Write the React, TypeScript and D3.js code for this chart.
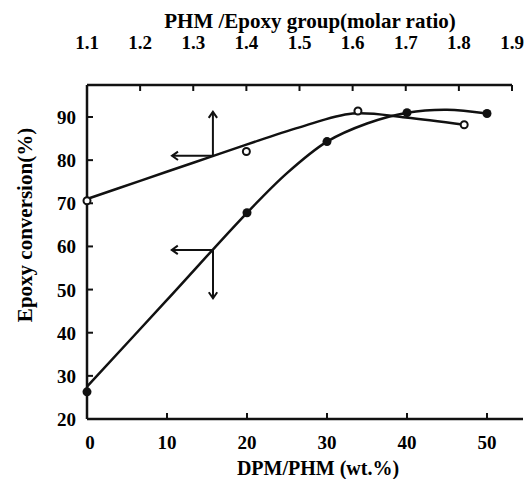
import React from 'react';
import * as d3 from 'd3';

// ---- data ----
const wtTicks = [0, 10, 20, 30, 40, 50];
const molarTicks = [1.1, 1.2, 1.3, 1.4, 1.5, 1.6, 1.7, 1.8, 1.9];
const yTicks = [20, 30, 40, 50, 60, 70, 80, 90];

// open circles: conversion vs PHM/Epoxy molar ratio (top axis)
const molarPoints = [1.1, 1.4, 1.61, 1.81];
const molarConv = [70.6, 82, 91.4, 88.2];
// smooth fitted curve through molar data
const molarCurveX = [1.1, 1.2, 1.3, 1.4, 1.5, 1.6, 1.7, 1.81];
const molarCurveY = [71, 75.2, 79.4, 83.6, 87.6, 90.8, 89.9, 88.2];

// filled circles: conversion vs DPM/PHM wt% (bottom axis)
const wtPoints = [0, 20, 30, 40, 50];
const wtConv = [26.3, 67.8, 84.3, 91, 90.8];
const wtCurveX = [0, 10, 20, 25, 30, 35, 40, 45, 50];
const wtCurveY = [27.5, 47.6, 67.8, 77, 84.3, 88.5, 91, 91.7, 90.8];

// axis-indicator arrows (junction, horizontal tip, vertical tip) in data units
const arrowMolar = { x: 1.337, y: 81, xTip: 1.26, yTip: 91.2 };
const arrowWt = { x: 15.75, y: 59.2, xTip: 10.6, yTip: 48 };

const FONT = "'Liberation Serif', 'Times New Roman', serif";

export default function App() {
  const xWt = d3.scaleLinear().domain([0, 50]).range([87, 487]);
  const xMol = d3.scaleLinear().domain([1.1, 1.9]).range([87, 512]);
  const y = d3.scaleLinear().domain([20, 90]).range([419, 117]);

  const top = 85;
  const bottom = y(20);
  const left = xWt(0);

  const lineGen = d3.line<[number, number]>().curve(d3.curveCatmullRom.alpha(0.5));
  const curveA = lineGen(molarCurveX.map((m, i) => [xMol(m), y(molarCurveY[i])]))!;
  const curveB = lineGen(wtCurveX.map((w, i) => [xWt(w), y(wtCurveY[i])]))!;

  const stroke = '#111';
  const arrowHead = (x: number, yy: number, dir: 'left' | 'up' | 'down') => {
    const s = 6;
    if (dir === 'left') return `M${x + s},${yy - s * 0.7}L${x},${yy}L${x + s},${yy + s * 0.7}`;
    if (dir === 'up') return `M${x - s * 0.7},${yy + s}L${x},${yy}L${x + s * 0.7},${yy + s}`;
    return `M${x - s * 0.7},${yy - s}L${x},${yy}L${x + s * 0.7},${yy - s}`;
  };

  const aJx = xMol(arrowMolar.x), aJy = y(arrowMolar.y);
  const aHx = xMol(arrowMolar.xTip), aVy = y(arrowMolar.yTip);
  const bJx = xWt(arrowWt.x), bJy = y(arrowWt.y);
  const bHx = xWt(arrowWt.xTip), bVy = y(arrowWt.yTip);

  return (
    <svg width={532} height={479} style={{ position: 'absolute', left: 0, top: 0, background: '#fff' }}
      fontFamily={FONT} fontWeight="bold">
      {/* titles */}
      <text x={310} y={28} textAnchor="middle" fontSize={21}>PHM /Epoxy group(molar ratio)</text>
      <text x={318} y={475} textAnchor="middle" fontSize={20}>DPM/PHM (wt.%)</text>
      <text transform={`translate(32,225) rotate(-90)`} textAnchor="middle" fontSize={21}>Epoxy conversion(%)</text>

      {/* axes lines */}
      <line x1={left} y1={top} x2={xMol(1.9)} y2={top} stroke={stroke} strokeWidth={2.5} />
      <line x1={left} y1={top} x2={left} y2={bottom} stroke={stroke} strokeWidth={2.5} />
      <line x1={left} y1={bottom} x2={xWt(54.5)} y2={bottom} stroke={stroke} strokeWidth={2.5} />

      {/* top ticks */}
      {molarTicks.map(t => (
        <g key={'m' + t}>
          {t > 1.1 && <line x1={xMol(t)} x2={xMol(t)} y1={top} y2={top + 6} stroke={stroke} strokeWidth={2} />}
          <text x={xMol(t)} y={49} textAnchor="middle" fontSize={19}>{t.toFixed(1)}</text>
        </g>
      ))}
      {/* bottom ticks */}
      {wtTicks.map(t => (
        <g key={'w' + t}>
          {t > 0 && <line x1={xWt(t)} x2={xWt(t)} y1={bottom} y2={bottom - 6} stroke={stroke} strokeWidth={2} />}
          <text x={xWt(t) + (t === 0 ? 3 : 0)} y={449} textAnchor="middle" fontSize={19}>{t}</text>
        </g>
      ))}
      {/* left ticks */}
      {yTicks.map(t => (
        <g key={'y' + t}>
          {t > 20 && <line x1={left} x2={left + 6} y1={y(t)} y2={y(t)} stroke={stroke} strokeWidth={2} />}
          <text x={76} y={y(t) + 7} textAnchor="end" fontSize={19}>{t}</text>
        </g>
      ))}

      {/* curves */}
      <path d={curveA} fill="none" stroke={stroke} strokeWidth={2.5} />
      <path d={curveB} fill="none" stroke={stroke} strokeWidth={2.5} />

      {/* arrows */}
      <g stroke={stroke} strokeWidth={2} fill="none">
        <line x1={aJx} y1={aJy} x2={aHx} y2={aJy} />
        <line x1={aJx} y1={aJy} x2={aJx} y2={aVy} />
        <path d={arrowHead(aHx, aJy, 'left')} />
        <path d={arrowHead(aJx, aVy, 'up')} />
        <line x1={bJx} y1={bJy} x2={bHx} y2={bJy} />
        <line x1={bJx} y1={bJy} x2={bJx} y2={bVy} />
        <path d={arrowHead(bHx, bJy, 'left')} />
        <path d={arrowHead(bJx, bVy, 'down')} />
      </g>

      {/* markers */}
      {molarPoints.map((m, i) => (
        <circle key={'o' + i} cx={xMol(m)} cy={y(molarConv[i])} r={3.5} fill="#fff" stroke={stroke} strokeWidth={2} />
      ))}
      {wtPoints.map((w, i) => (
        <circle key={'f' + i} cx={xWt(w)} cy={y(wtConv[i])} r={4.5} fill={stroke} />
      ))}
    </svg>
  );
}
